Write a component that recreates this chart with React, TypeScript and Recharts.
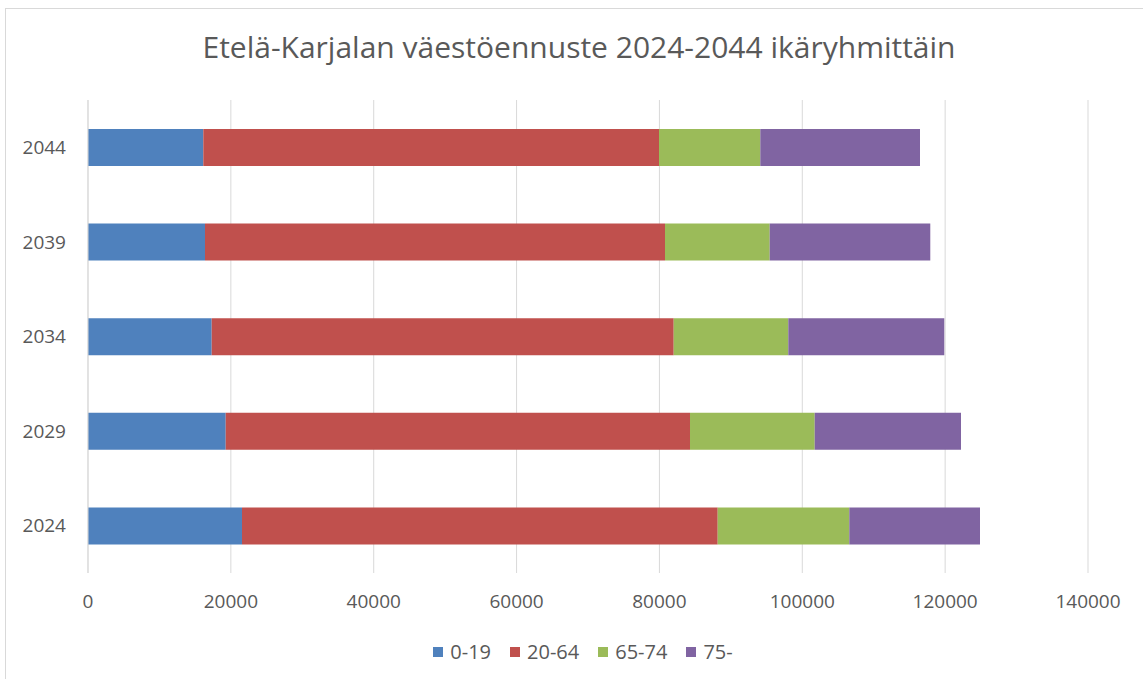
import { Bar, BarChart, CartesianGrid, Legend, XAxis, YAxis } from 'recharts'

const years = ['2024', '2029', '2034', '2039', '2044']
const age0to19 = [21560, 19280, 17320, 16380, 16140]
const age20to64 = [66600, 65000, 64680, 64400, 63800]
const age65to74 = [18420, 17460, 16040, 14660, 14180]
const age75plus = [18300, 20480, 21840, 22480, 22360]
const xTicks = [0, 20000, 40000, 60000, 80000, 100000, 120000, 140000]

const TEXT = '#595959'
const GRID = '#d9d9d9'

const data = years.map((year, i) => ({
  year,
  a: age0to19[i],
  b: age20to64[i],
  c: age65to74[i],
  d: age75plus[i],
}))

function LegendRow({ payload }: any) {
  return (
    <div style={{ display: 'flex', justifyContent: 'center', fontSize: 20, lineHeight: '28px', color: TEXT }}>
      {(payload || []).map((p: any, i: number) => (
        <div
          key={p.value}
          style={{ display: 'flex', alignItems: 'center', marginLeft: i === 0 ? 0 : 19 }}
        >
          <span style={{ width: 10, height: 10, background: p.color, marginRight: 7, display: 'inline-block' }} />
          <span>{p.value}</span>
        </div>
      ))}
    </div>
  )
}

export default function App() {
  return (
    <div
      style={{
        position: 'absolute',
        left: 5,
        top: 8,
        width: 1150,
        height: 680,
        borderLeft: `1px solid ${GRID}`,
        borderTop: `1px solid ${GRID}`,
        fontFamily: '"Open Sans", sans-serif',
        color: TEXT,
        background: '#fff',
      }}
    >
      <div
        style={{
          position: 'absolute',
          left: 0,
          width: 1146,
          top: 20,
          textAlign: 'center',
          fontSize: 30,
          lineHeight: '36px',
        }}
      >
        Etelä-Karjalan väestöennuste 2024-2044 ikäryhmittäin
      </div>
      <BarChart
        width={1138}
        height={670}
        data={data}
        layout="vertical"
        margin={{ top: 91, right: 56, bottom: 13, left: 0 }}
      >
        <CartesianGrid horizontal={false} stroke={GRID} />
        <XAxis
          type="number"
          domain={[0, 140000]}
          ticks={xTicks}
          axisLine={false}
          tickLine={false}
          tickMargin={16}
          height={65}
          tick={{ fill: TEXT, fontSize: 19 }}
          interval={0}
        />
        <YAxis
          type="category"
          dataKey="year"
          reversed
          width={82}
          axisLine={{ stroke: GRID }}
          tickLine={false}
          tickMargin={16}
          tick={{ fill: TEXT, fontSize: 19 }}
        />
        <Legend verticalAlign="bottom" content={<LegendRow />} wrapperStyle={{ left: 36 }} />
        <Bar dataKey="a" name="0-19" stackId="s" fill="#4F81BD" barSize={37} isAnimationActive={false} />
        <Bar dataKey="b" name="20-64" stackId="s" fill="#C0504D" barSize={37} isAnimationActive={false} />
        <Bar dataKey="c" name="65-74" stackId="s" fill="#9BBB59" barSize={37} isAnimationActive={false} />
        <Bar dataKey="d" name="75-" stackId="s" fill="#8064A2" barSize={37} isAnimationActive={false} />
      </BarChart>
    </div>
  )
}
